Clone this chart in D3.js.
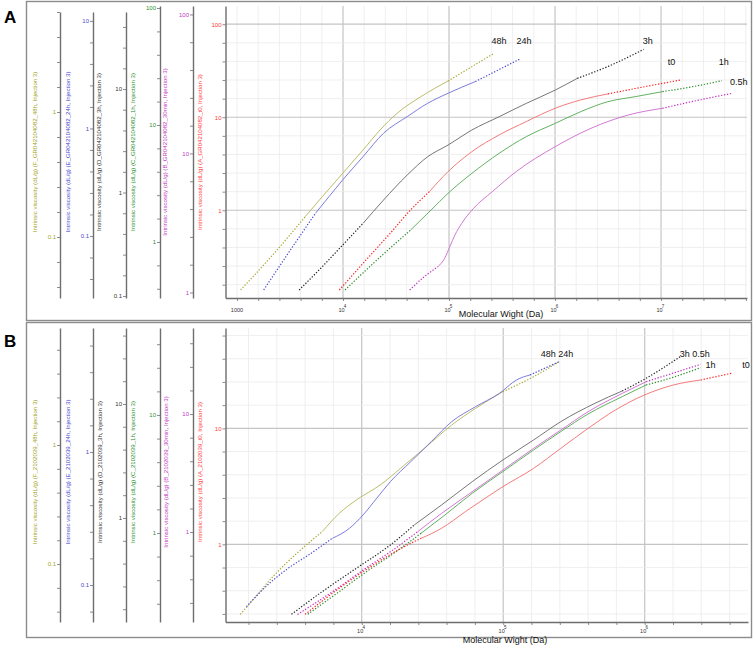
<!DOCTYPE html>
<html><head><meta charset="utf-8">
<script src="https://cdn.jsdelivr.net/npm/d3@7"></script>
<style>body{margin:0;background:#fff}svg{display:block}</style>
</head><body>
<svg id="c" width="753" height="647"></svg>
<script>
// ================= DATA =================
const seriesKeys = ["48h", "24h", "3h", "1h", "0.5h", "t0"];
const A_titles = [
  "Intrinsic viscosity (dL/g) (F_GR042104082_48h, Injection 3)",
  "Intrinsic viscosity (dL/g) (E_GR042104082_24h, Injection 3)",
  "Intrinsic viscosity (dL/g) (D_GR042104082_3h, Injection 3)",
  "Intrinsic viscosity (dL/g) (C_GR042104082_1h, Injection 3)",
  "Intrinsic viscosity (dL/g) (B_GR042104082_30min, Injection 3)",
  "Intrinsic viscosity (dL/g) (A_GR042104082_t0, Injection 3)"];
const B_titles = [
  "Intrinsic viscosity (dL/g) (F_2102039_48h, Injection 3)",
  "Intrinsic viscosity (dL/g) (E_2102039_24h, Injection 3)",
  "Intrinsic viscosity (dL/g) (D_2102039_3h, Injection 3)",
  "Intrinsic viscosity (dL/g) (C_2102039_1h, Injection 3)",
  "Intrinsic viscosity (dL/g) (B_2102039_30min, Injection 3)",
  "Intrinsic viscosity (dL/g) (A_2102039_t0, Injection 3)"];
const xTitle = "Molecular Wight (Da)";

// y-axis value ranges (one axis per series, order = seriesKeys)
const A_yDomains = [[0.0325, 6.31], [0.0265, 12.1], [0.0957, 55.5], [0.332, 104], [0.913, 115], [0.114, 157]];
const B_yDomains = [[0.0326, 9.62], [0.0527, 8.55], [0.1224, 46.4], [0.176, 54.6], [0.173, 53.6], [0.214, 73.3]];
const A_xDomain = [779, 6.47e7];
const B_xDomain = [1090, 5.37e6];

// ---- Panel A series (Molecular weight Da, intrinsic viscosity dL/g) ----
const A_mw_48h = [1081, 2104, 4406, 6368, 9930, 15460, 22390, 32360, 54330, 97950, 164400, 265500];
const A_iv_48h = [0.0377, 0.0697, 0.1455, 0.210, 0.323, 0.497, 0.718, 0.976, 1.327, 1.770, 2.305, 2.947];
const A_mw_24h = [1786, 3041, 5495, 7379, 9930, 15460, 24100, 40360, 62950, 97950, 177000, 462400];
const A_iv_24h = [0.0315, 0.069, 0.1625, 0.2323, 0.332, 0.547, 0.902, 1.288, 1.714, 2.124, 2.727, 4.40];
const A_mw_3h = [3855, 6368, 9930, 15460, 24100, 40360, 62950, 97950, 164400, 297300, 535800, 1005000, 1622000, 3396000, 6855000];
const A_iv_3h = [0.1143, 0.192, 0.311, 0.504, 0.846, 1.476, 2.219, 2.877, 4.018, 5.405, 7.27, 9.78, 12.68, 17.06, 24.16];
const A_mw_1h = [10450, 19320, 43450, 67760, 97950, 164400, 297300, 535800, 1005000, 1749000, 3155000, 5700000, 10310000, 21530000, 37500000];
const A_iv_1h = [0.389, 0.657, 1.266, 1.877, 2.606, 3.863, 5.725, 7.95, 10.33, 13.0, 15.83, 17.46, 19.27, 21.55, 23.93];
const A_mw_05h = [42560, 58480, 78520, 91000, 101700, 113700, 131900, 170600, 255900, 429500, 1005000, 2183000, 4920000, 10310000, 21530000, 46770000];
const A_iv_05h = [1.042, 1.300, 1.534, 1.762, 2.136, 2.592, 3.145, 4.032, 5.313, 7.40, 11.20, 15.17, 18.92, 21.13, 23.99, 27.09];
const A_mw_t0 = [9226, 15460, 27920, 43450, 65310, 97950, 164400, 297300, 535800, 1005000, 1749000, 3155000, 7110000, 15450000];
const A_iv_t0 = [0.139, 0.269, 0.566, 1.008, 1.587, 2.605, 4.27, 6.457, 8.98, 12.50, 15.36, 17.82, 21.37, 25.19];
// measured (solid) MW range; outside = extrapolated (dotted)
const A_measured = [[4406, 97950], [5495, 177000], [15460, 1622000], [43450, 10310000], [78520, 10310000], [65310, 3155000]];

// ---- Panel B series ----
const B_mw_48h = [1387, 1733, 2415, 3371, 5254, 6934, 9150, 13490, 18830, 27760, 43270, 63830, 99450, 163900, 248500];
const B_iv_48h = [0.0378, 0.0514, 0.0808, 0.119, 0.187, 0.2666, 0.345, 0.461, 0.637, 0.938, 1.473, 2.033, 2.806, 3.75, 5.01];
const B_mw_24h = [1534, 2163, 3017, 4207, 6209, 8190, 10220, 12760, 15940, 22230, 31010, 43270, 63830, 94090, 124200, 154900, 248500];
const B_iv_24h = [0.0687, 0.1, 0.1334, 0.168, 0.2244, 0.2667, 0.336, 0.4485, 0.598, 0.846, 1.196, 1.690, 2.191, 2.762, 3.478, 3.793, 4.777];
const B_mw_3h = [3190, 5254, 9150, 15940, 23500, 36640, 60380, 99450, 163900, 255300, 444800, 693400, 1023000, 1782000];
const B_iv_3h = [0.1429, 0.2259, 0.3618, 0.580, 0.868, 1.300, 2.083, 3.228, 4.833, 7.0, 10.14, 13.0, 16.8, 26.0];
const B_mw_1h = [4160, 6934, 10810, 16850, 26250, 38730, 60380, 99450, 163900, 255300, 398100, 693400, 1023000, 1508000, 2485000];
const B_iv_1h = [0.2046, 0.3184, 0.470, 0.6726, 0.9935, 1.420, 2.168, 3.311, 5.05, 7.225, 10.2, 14.3, 17.96, 20.46, 25.18];
const B_mw_05h = [3522, 6209, 10220, 15940, 24850, 36640, 60380, 99450, 163900, 255300, 398100, 693400, 1023000, 2485000];
const B_iv_05h = [0.2006, 0.312, 0.4764, 0.681, 1.0065, 1.439, 2.196, 3.353, 5.117, 7.316, 10.47, 14.96, 18.79, 26.36];
const B_mw_t0 = [3981, 6934, 12070, 21030, 26250, 36640, 54010, 99450, 163900, 255300, 398100, 620700, 995000, 1593000, 2485000, 4093000];
const B_iv_t0 = [0.2492, 0.4175, 0.6635, 0.987, 1.126, 1.374, 1.912, 3.141, 4.519, 6.724, 10.0, 14.39, 19.38, 23.64, 26.11, 29.79];
const B_measured = [[5254, 99450], [6209, 154900], [23500, 693400], [26250, 1023000], [24850, 1023000], [26250, 2485000]];

// curve-end annotations: text, MW, value on the t0 (main) axis
const A_notes = ["48h", "24h", "3h", "t0", "1h", "0.5h"];
const A_notesMW = [296500, 510500, 7.48e6, 1.253e7, 3.90e7, 5.40e7];
const A_notesIV = [64.5, 64.5, 64.5, 38.4, 38.4, 23.4];
const B_notes = ["48h 24h", "3h 0.5h", "1h", "t0"];
const B_notesMW = [2.40e5, 2.26e6, 2.92e6, 5.20e6];
const B_notesIV = [42.9, 42.9, 34.4, 34.4];

// ================= STYLE / LAYOUT =================
const lineColors = ["#b4b45a", "#6e6ed8", "#666666", "#50a850", "#cc6acc", "#f26c6c"];
const dotColors  = ["#a6a630", "#4848d0", "#222222", "#2e8e2e", "#c030c0", "#ff2020"];
const textColors = ["#a3a326", "#4a4ad0", "#333333", "#2e912e", "#c23ac2", "#ff3a3a"];
const FONT = "'Liberation Sans', Arial, Helvetica, sans-serif";

const svg = d3.select("#c");

const panels = [
  {
    letter: "A", frame: [26.5, 1.5, 725, 319], letterPos: [4, 23],
    axX: [60, 93, 126, 160, 193, 225.5],
    axTop: [12, 12, 12, 6, 6, 6], bottom: 298,
    xRange: [225.5, 747], xDomain: A_xDomain, yDomains: A_yDomains,
    titles: A_titles, titleY: 152, titleX: [35.5, 68, 99.5, 133, 165.5, 200],
    mw: [A_mw_48h, A_mw_24h, A_mw_3h, A_mw_1h, A_mw_05h, A_mw_t0],
    iv: [A_iv_48h, A_iv_24h, A_iv_3h, A_iv_1h, A_iv_05h, A_iv_t0],
    measured: A_measured,
    notes: A_notes, notesMW: A_notesMW, notesIV: A_notesIV,
    xTitlePos: [501, 317], tickLabelY: 310, label1000: true
  },
  {
    letter: "B", frame: [26.5, 322.5, 725, 315], letterPos: [4, 347],
    axX: [60, 93, 126, 160, 193, 225.5],
    axTop: [328, 328, 328, 328, 328, 328], bottom: 622,
    xRange: [225.5, 748], xDomain: B_xDomain, yDomains: B_yDomains,
    titles: B_titles, titleY: 472, titleX: [35.5, 68, 100, 133, 166, 200],
    mw: [B_mw_48h, B_mw_24h, B_mw_3h, B_mw_1h, B_mw_05h, B_mw_t0],
    iv: [B_iv_48h, B_iv_24h, B_iv_3h, B_iv_1h, B_iv_05h, B_iv_t0],
    measured: B_measured,
    notes: B_notes, notesMW: B_notesMW, notesIV: B_notesIV,
    xTitlePos: [505, 643], tickLabelY: 631, label1000: false
  }
];

function stepTicks(dom) {
  const lo = Math.log10(dom[0]), hi = Math.log10(dom[1]);
  const out = [];
  for (let k = Math.ceil(lo * 5 - 1e-6); k <= Math.floor(hi * 5 + 1e-6); k++) out.push(k / 5);
  return out; // exponents
}
function isInt(e) { return Math.abs(e - Math.round(e)) < 1e-6; }

panels.forEach(p => {
  const g = svg.append("g");
  // frame
  g.append("rect").attr("x", p.frame[0]).attr("y", p.frame[1]).attr("width", p.frame[2]).attr("height", p.frame[3])
    .attr("fill", "none").attr("stroke", "#8c8c8c").attr("stroke-width", 1.4);
  g.append("text").attr("x", p.letterPos[0]).attr("y", p.letterPos[1]).text(p.letter)
    .attr("font-family", FONT).attr("font-weight", "bold").attr("font-size", 17).attr("fill", "#000");

  const x = d3.scaleLog().domain(p.xDomain).range(p.xRange);
  const ys = p.yDomains.map((d, i) => d3.scaleLog().domain(d).range([p.bottom, p.axTop[i]]));
  const yMain = ys[5];
  const plotTop = p.axTop[5];

  // grid
  const grid = g.append("g");
  stepTicks(p.xDomain).forEach(e => {
    const major = isInt(e) && e >= 4;
    grid.append("line").attr("x1", x(Math.pow(10, e))).attr("x2", x(Math.pow(10, e)))
      .attr("y1", plotTop).attr("y2", p.bottom)
      .attr("stroke", major ? "#c4c4c4" : "#ebebeb").attr("stroke-width", major ? 1.2 : 0.8);
  });
  stepTicks(p.yDomains[5]).forEach(e => {
    const major = isInt(e);
    grid.append("line").attr("y1", yMain(Math.pow(10, e))).attr("y2", yMain(Math.pow(10, e)))
      .attr("x1", p.xRange[0]).attr("x2", p.xRange[1])
      .attr("stroke", major ? "#c4c4c4" : "#ebebeb").attr("stroke-width", major ? 1.2 : 0.8);
  });

  // y axes
  ys.forEach((y, i) => {
    const exps = stepTicks(p.yDomains[i]);
    const ax = d3.axisLeft(y).tickValues(exps.map(e => Math.pow(10, e))).tickSize(3).tickSizeOuter(0)
      .tickFormat(v => { const e = Math.log10(v); return isInt(e) ? (e < 0 ? String(+v.toFixed(3)) : String(Math.round(v))) : ""; });
    const ag = g.append("g").attr("transform", `translate(${p.axX[i]},0)`).call(ax);
    ag.select(".domain").attr("stroke", "#6e6e6e").attr("stroke-width", 1.4);
    ag.selectAll(".tick line").attr("stroke", "#6e6e6e").attr("stroke-width", 0.8);
    ag.selectAll(".tick text").attr("fill", textColors[i]).attr("font-size", 6).attr("font-family", FONT).attr("x", -4);
    // title
    g.append("text").attr("transform", `translate(${p.titleX[i]},${p.titleY}) rotate(-90)`)
      .attr("text-anchor", "middle").attr("dominant-baseline", "middle")
      .attr("font-family", FONT).attr("font-size", 6.1).attr("fill", textColors[i]).text(p.titles[i]);
  });

  // x axis
  const xExps = stepTicks(p.xDomain);
  const xa = d3.axisBottom(x).tickValues(xExps.map(e => Math.pow(10, e))).tickSize(3).tickSizeOuter(0).tickFormat("");
  const xg = g.append("g").attr("transform", `translate(0,${p.bottom})`).call(xa);
  xg.select(".domain").attr("stroke", "#6e6e6e").attr("stroke-width", 1.4);
  xg.selectAll(".tick line").attr("stroke", "#6e6e6e").attr("stroke-width", 0.8);
  xExps.filter(isInt).forEach(e => {
    const px = x(Math.pow(10, e));
    if (e === 3 && p.label1000) {
      g.append("text").attr("x", px).attr("y", p.tickLabelY + 2).attr("text-anchor", "middle")
        .attr("font-family", FONT).attr("font-size", 5.5).attr("fill", "#333").text("1000");
    } else if (e >= 4) {
      g.append("text").attr("x", px + 1.5).attr("y", p.tickLabelY + 2).attr("text-anchor", "end")
        .attr("font-family", FONT).attr("font-size", 5.5).attr("fill", "#333").text("10");
      g.append("text").attr("x", px + 0.8).attr("y", p.tickLabelY - 2.5)
        .attr("font-family", FONT).attr("font-size", 4.5).attr("fill", "#333").text(String(e));
    }
  });
  g.append("text").attr("x", p.xTitlePos[0]).attr("y", p.xTitlePos[1]).attr("text-anchor", "middle")
    .attr("font-family", FONT).attr("font-size", 9).attr("fill", "#111").text(xTitle);

  // curves
  const line = d3.line().curve(d3.curveMonotoneX);
  p.mw.forEach((mw, i) => {
    const y = ys[i];
    const pts = mw.map((m, j) => [x(m), y(p.iv[i][j])]);
    const i1 = mw.indexOf(p.measured[i][0]);
    const i2 = mw.indexOf(p.measured[i][1]);
    const segs = [
      { pts: pts.slice(0, i1 + 1), dotted: true },
      { pts: pts.slice(i1, i2 + 1), dotted: false },
      { pts: pts.slice(i2), dotted: true }];
    segs.forEach(s => {
      if (s.pts.length < 2) return;
      const path = g.append("path").attr("d", line(s.pts)).attr("fill", "none");
      if (s.dotted) path.attr("stroke", dotColors[i]).attr("stroke-width", 1.2).attr("stroke-dasharray", "1.3,1.7");
      else path.attr("stroke", lineColors[i]).attr("stroke-width", 0.9);
    });
  });

  // annotations
  p.notes.forEach((t, k) => {
    g.append("text").attr("x", x(p.notesMW[k])).attr("y", yMain(p.notesIV[k]))
      .attr("text-anchor", "middle").attr("dominant-baseline", "middle")
      .attr("font-family", FONT).attr("font-size", 9).attr("fill", "#111").text(t);
  });
});
</script>
</body></html>
